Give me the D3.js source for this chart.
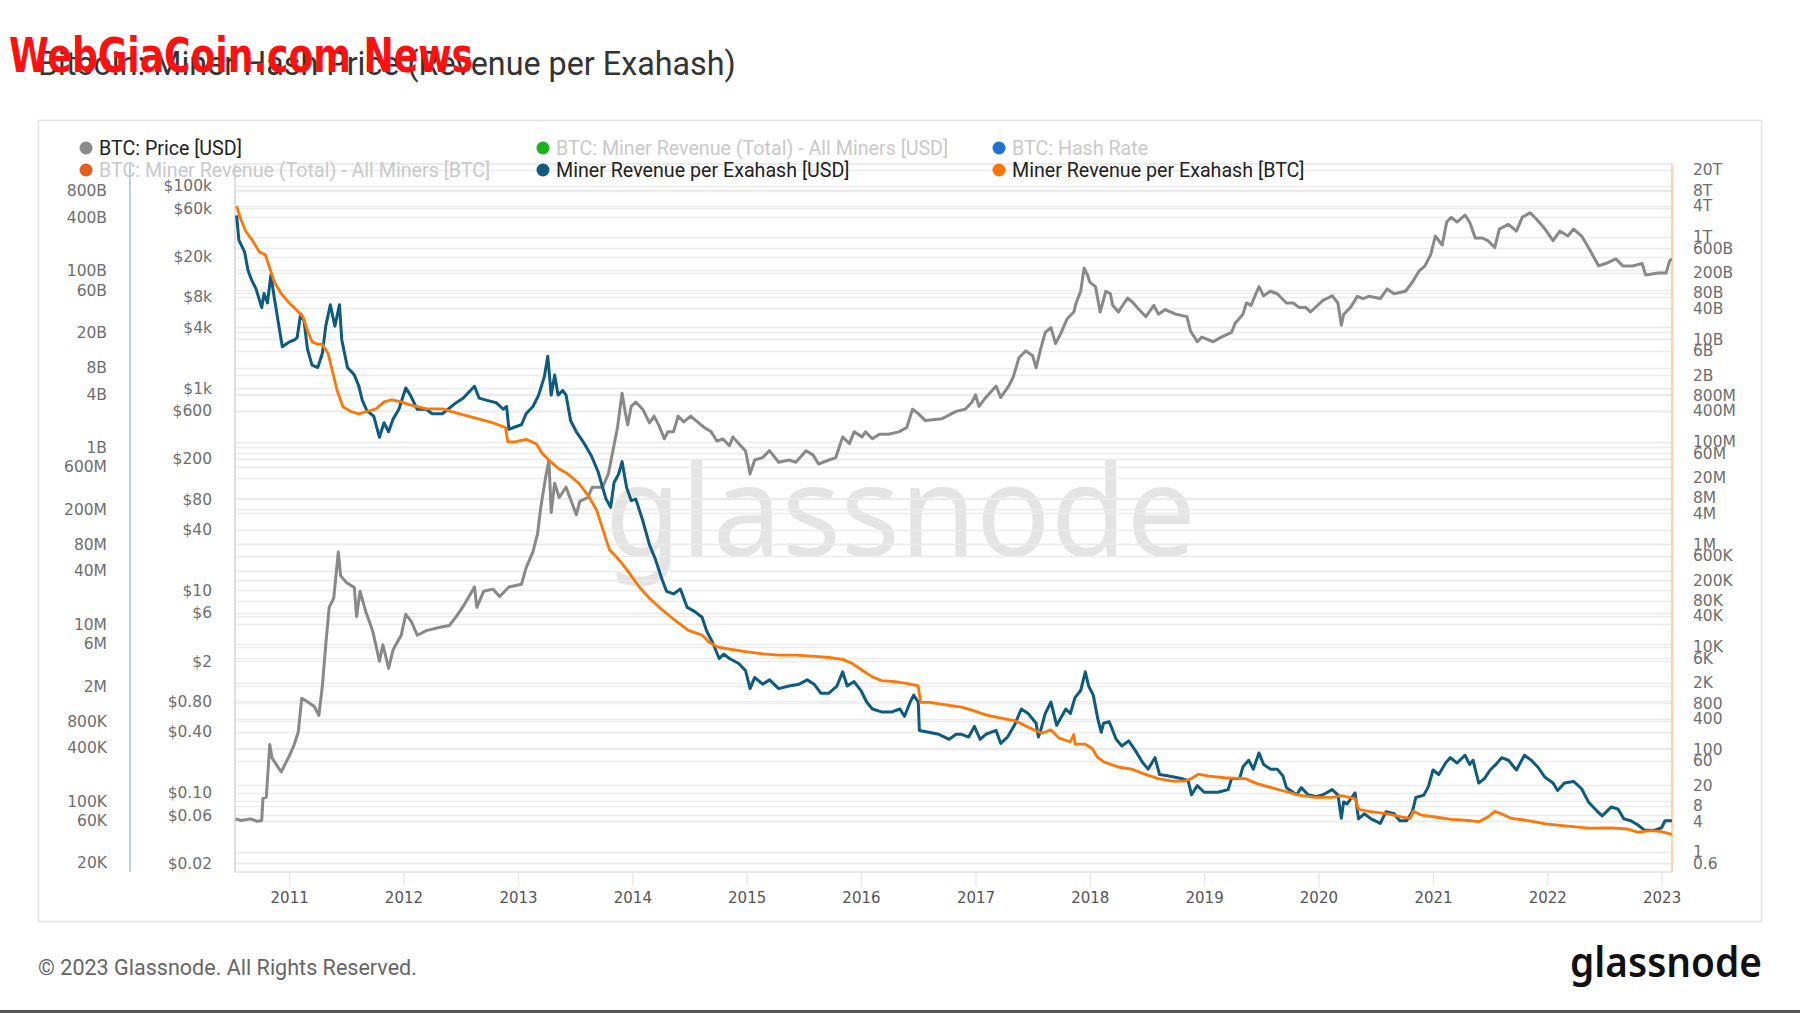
<!DOCTYPE html>
<html><head><meta charset="utf-8">
<script src="https://cdn.jsdelivr.net/npm/d3@7/dist/d3.min.js"></script>
<style>body{margin:0;background:#fff;}svg{display:block;}</style>
</head><body>
<svg id="chart" width="1800" height="1013"></svg>
<script>
// ---------------- DATA ----------------
const priceYears = [2010.53,2010.58,2010.66,2010.72,2010.76,2010.77,2010.80,2010.83,2010.85,2010.93,2011.0,2011.04,2011.08,2011.11,2011.16,2011.22,2011.26,2011.29,2011.32,2011.35,2011.39,2011.43,2011.45,2011.50,2011.57,2011.59,2011.62,2011.67,2011.73,2011.79,2011.82,2011.87,2011.91,2011.98,2012.02,2012.07,2012.12,2012.20,2012.31,2012.40,2012.46,2012.53,2012.62,2012.64,2012.70,2012.78,2012.84,2012.92,2013.03,2013.07,2013.13,2013.17,2013.20,2013.24,2013.27,2013.29,2013.32,2013.36,2013.42,2013.51,2013.54,2013.61,2013.65,2013.74,2013.79,2013.83,2013.87,2013.91,2013.94,2013.96,2013.99,2014.03,2014.09,2014.15,2014.19,2014.23,2014.28,2014.31,2014.36,2014.40,2014.45,2014.51,2014.58,2014.63,2014.69,2014.74,2014.79,2014.85,2014.88,2014.93,2014.99,2015.03,2015.07,2015.14,2015.20,2015.28,2015.37,2015.43,2015.52,2015.58,2015.63,2015.72,2015.78,2015.84,2015.90,2015.94,2016.01,2016.04,2016.10,2016.16,2016.24,2016.33,2016.40,2016.45,2016.50,2016.56,2016.71,2016.83,2016.91,2016.97,2017.0,2017.03,2017.09,2017.18,2017.22,2017.29,2017.33,2017.38,2017.44,2017.50,2017.53,2017.57,2017.61,2017.66,2017.70,2017.75,2017.80,2017.86,2017.88,2017.92,2017.95,2017.98,2018.0,2018.05,2018.09,2018.14,2018.18,2018.20,2018.25,2018.33,2018.38,2018.43,2018.49,2018.56,2018.60,2018.66,2018.75,2018.85,2018.88,2018.94,2018.98,2019.08,2019.15,2019.24,2019.27,2019.34,2019.37,2019.41,2019.48,2019.52,2019.58,2019.64,2019.72,2019.78,2019.83,2019.89,2019.93,2020.04,2020.12,2020.17,2020.20,2020.22,2020.28,2020.34,2020.39,2020.44,2020.54,2020.60,2020.66,2020.76,2020.82,2020.88,2020.93,2020.98,2021.02,2021.08,2021.12,2021.16,2021.21,2021.28,2021.32,2021.37,2021.43,2021.48,2021.54,2021.58,2021.66,2021.73,2021.78,2021.85,2021.91,2021.98,2022.05,2022.11,2022.18,2022.23,2022.30,2022.36,2022.45,2022.51,2022.60,2022.66,2022.75,2022.83,2022.86,2022.97,2023.04,2023.07,2023.09];
const priceValues = [0.055,0.053,0.055,0.052,0.053,0.087,0.09,0.30,0.22,0.16,0.23,0.29,0.40,0.86,0.79,0.71,0.58,1.12,2.9,6.8,8.4,24,14,12,10.7,5.5,9.8,6.2,4.0,2.0,2.9,1.7,2.6,3.6,5.8,4.9,3.6,4.0,4.3,4.5,5.5,7.2,10.8,6.8,9.8,10.3,8.7,10.8,11.5,16.7,24,36,68,129,195,59,115,83,105,56,76,83,105,105,142,241,409,890,560,434,660,730,620,454,530,434,316,370,370,530,465,530,454,409,370,300,316,270,330,283,241,142,195,206,241,185,195,185,241,219,178,195,206,330,283,370,330,370,316,350,350,370,409,620,560,480,500,590,620,730,860,660,810,1050,810,1050,1290,2000,2340,2090,1590,2450,3560,3980,2760,3560,4830,5670,6970,9100,15400,13100,11200,10100,5670,9100,8600,6600,5670,7800,6970,6000,5100,6600,5400,6000,5400,5100,3700,2880,3200,2880,3200,3560,4370,5400,6970,6600,10100,8200,9100,8600,6970,6970,6300,6300,5670,7400,8200,6970,4200,5350,6300,8100,7700,8100,7700,9600,8600,9100,11200,14500,16200,21000,32000,26000,44000,49000,44000,51500,44000,30600,30600,28800,24600,37500,41700,35800,49000,54300,46300,37500,28800,35800,32000,37500,32000,24600,16200,17100,19000,16200,16200,17100,13200,13800,13800,18200,19000];

const usdYears = [2010.54,2010.56,2010.61,2010.64,2010.67,2010.71,2010.76,2010.78,2010.81,2010.84,2010.87,2010.91,2010.94,2011.0,2011.05,2011.07,2011.10,2011.13,2011.16,2011.20,2011.25,2011.29,2011.32,2011.36,2011.40,2011.44,2011.46,2011.51,2011.57,2011.61,2011.64,2011.68,2011.74,2011.79,2011.83,2011.87,2011.91,2011.96,2012.02,2012.06,2012.12,2012.20,2012.25,2012.34,2012.46,2012.52,2012.62,2012.66,2012.73,2012.81,2012.87,2012.90,2012.92,2012.97,2013.03,2013.07,2013.13,2013.18,2013.23,2013.26,2013.29,2013.32,2013.35,2013.39,2013.42,2013.46,2013.51,2013.58,2013.64,2013.70,2013.74,2013.77,2013.81,2013.84,2013.88,2013.91,2013.95,2013.99,2014.03,2014.09,2014.15,2014.20,2014.26,2014.30,2014.36,2014.42,2014.48,2014.55,2014.61,2014.65,2014.70,2014.76,2014.80,2014.85,2014.93,2014.99,2015.03,2015.07,2015.14,2015.20,2015.28,2015.37,2015.46,2015.53,2015.59,2015.65,2015.72,2015.79,2015.84,2015.88,2015.94,2016.0,2016.05,2016.10,2016.18,2016.27,2016.34,2016.38,2016.43,2016.46,2016.50,2016.51,2016.59,2016.68,2016.77,2016.83,2016.88,2016.94,2016.99,2017.04,2017.09,2017.18,2017.22,2017.28,2017.34,2017.40,2017.46,2017.53,2017.55,2017.57,2017.61,2017.66,2017.71,2017.79,2017.83,2017.87,2017.92,2017.96,2017.99,2018.03,2018.07,2018.10,2018.12,2018.17,2018.23,2018.28,2018.34,2018.40,2018.46,2018.51,2018.57,2018.61,2018.69,2018.80,2018.86,2018.89,2018.94,2019.0,2019.12,2019.21,2019.24,2019.31,2019.34,2019.39,2019.43,2019.48,2019.52,2019.58,2019.64,2019.69,2019.72,2019.81,2019.85,2019.91,2019.98,2020.04,2020.12,2020.17,2020.20,2020.22,2020.25,2020.32,2020.35,2020.40,2020.46,2020.54,2020.59,2020.66,2020.71,2020.77,2020.82,2020.85,2020.92,2020.96,2021.0,2021.05,2021.11,2021.15,2021.21,2021.28,2021.32,2021.35,2021.40,2021.45,2021.50,2021.55,2021.60,2021.66,2021.73,2021.80,2021.86,2021.92,2021.98,2022.05,2022.09,2022.15,2022.23,2022.30,2022.36,2022.44,2022.48,2022.56,2022.62,2022.67,2022.73,2022.79,2022.85,2022.94,2023.0,2023.03,2023.09];
const usdValues = [4.2e11,2.2e11,1.62e11,1.0e11,7.9e10,6.2e10,3.8e10,5.5e10,4.3e10,8.9e10,4.9e10,2.35e10,1.37e10,1.55e10,1.65e10,1.75e10,3.2e10,2.7e10,1.29e10,8.5e9,8.0e9,1.15e10,2.35e10,4.1e10,2.35e10,4.1e10,1.65e10,8.0e9,6.6e9,4.9e9,3.4e9,2.6e9,2.25e9,1.3e9,1.9e9,1.5e9,2.1e9,2.7e9,4.7e9,3.9e9,2.7e9,2.7e9,2.4e9,2.4e9,3.2e9,3.6e9,4.9e9,3.6e9,3.4e9,3.2e9,2.7e9,2.9e9,1.6e9,1.7e9,1.8e9,2.4e9,2.9e9,3.9e9,6.3e9,1.07e10,3.9e9,6.6e9,3.9e9,4.4e9,3.9e9,2.0e9,1.5e9,1.1e9,8.1e8,5.3e8,3.5e8,2.6e8,2.1e8,4.0e8,5.0e8,6.9e8,3.5e8,2.5e8,2.6e8,1.5e8,7.9e7,5.5e7,3.2e7,2.35e7,2.2e7,2.5e7,1.55e7,1.38e7,1.2e7,8.4e6,6.3e6,4.1e6,4.6e6,4.1e6,3.6e6,3.0e6,1.87e6,2.5e6,2.1e6,2.35e6,1.87e6,2.0e6,2.1e6,2.35e6,2.1e6,1.66e6,1.66e6,2.0e6,2.9e6,2.0e6,2.25e6,1.78e6,1.32e6,1.1e6,1.02e6,1.02e6,1.1e6,9.1e5,1.32e6,1.58e6,1.32e6,6.3e5,6.0e5,5.7e5,5.0e5,5.7e5,5.7e5,5.3e5,7.0e5,5.0e5,5.7e5,6.3e5,4.5e5,5.3e5,7.2e5,1.1e6,9.8e5,7.6e5,5.3e5,6.3e5,9.8e5,1.32e6,7.2e5,1.1e6,9.8e5,1.48e6,1.78e6,2.9e6,2.0e6,1.58e6,8.5e5,6.0e5,7.6e5,7.9e5,5.0e5,4.2e5,4.8e5,3.7e5,2.75e5,2.3e5,3.1e5,2.0e5,1.92e5,1.8e5,1.7e5,1.18e5,1.5e5,1.26e5,1.26e5,1.35e5,1.8e5,1.8e5,2.45e5,2.9e5,2.3e5,3.5e5,2.6e5,2.3e5,2.3e5,1.92e5,1.42e5,1.18e5,1.42e5,1.18e5,1.12e5,1.18e5,1.35e5,1.18e5,6.4e4,9.8e4,9.3e4,1.24e5,6.3e4,7.2e4,6.3e4,5.6e4,7.6e4,7.2e4,6.0e4,6.0e4,7.6e4,1.1e5,1.17e5,1.47e5,2.25e5,2.0e5,2.7e5,3.1e5,2.7e5,3.3e5,2.6e5,2.9e5,1.6e5,1.8e5,2.25e5,2.6e5,3.1e5,2.9e5,2.25e5,3.3e5,2.9e5,2.4e5,1.86e5,1.6e5,1.32e5,1.6e5,1.67e5,1.38e5,9.8e4,7.6e4,6.8e4,8.6e4,8.1e4,6.3e4,6.0e4,5.4e4,4.7e4,4.7e4,5.0e4,6.0e4,6.0e4];

const btcYears = [2010.54,2010.57,2010.62,2010.68,2010.74,2010.79,2010.83,2010.87,2010.93,2011.0,2011.06,2011.12,2011.16,2011.20,2011.25,2011.29,2011.34,2011.38,2011.42,2011.47,2011.54,2011.61,2011.68,2011.76,2011.83,2011.90,2011.98,2012.05,2012.20,2012.34,2012.49,2012.63,2012.78,2012.89,2012.91,2012.97,2013.07,2013.16,2013.21,2013.29,2013.36,2013.43,2013.53,2013.62,2013.69,2013.74,2013.80,2013.86,2013.91,2013.97,2014.06,2014.15,2014.26,2014.38,2014.49,2014.61,2014.67,2014.74,2014.85,2014.99,2015.14,2015.28,2015.43,2015.57,2015.72,2015.84,2015.92,2016.01,2016.10,2016.18,2016.30,2016.42,2016.50,2016.52,2016.60,2016.74,2016.88,2017.0,2017.09,2017.20,2017.35,2017.47,2017.58,2017.66,2017.73,2017.83,2017.86,2017.87,2017.96,2018.02,2018.07,2018.13,2018.25,2018.37,2018.48,2018.60,2018.72,2018.83,2018.89,2018.95,2019.04,2019.18,2019.36,2019.45,2019.53,2019.68,2019.83,2019.97,2020.12,2020.20,2020.32,2020.35,2020.44,2020.59,2020.73,2020.80,2020.83,2020.90,2021.02,2021.16,2021.31,2021.40,2021.48,2021.54,2021.59,2021.69,2021.83,2022.0,2022.18,2022.36,2022.56,2022.70,2022.79,2022.91,2023.0,2023.09];
const btcValues = [4.0e12,2.4e12,1.28e12,8.4e11,5.0e11,4.5e11,2.45e11,1.31e11,7.8e10,5.1e10,3.8e10,2.75e10,1.48e10,8.9e9,8.0e9,8.0e9,5.3e9,2.3e9,1.0e9,4.8e8,3.9e8,3.5e8,3.9e8,4.4e8,6.0e8,6.6e8,6.0e8,5.3e8,4.4e8,4.4e8,3.5e8,2.9e8,2.35e8,1.9e8,1.0e8,1.0e8,1.12e8,9.1e7,6.0e7,4.0e7,2.95e7,2.4e7,1.57e7,8.5e6,4.5e6,2.0e6,7.8e5,5.7e5,4.2e5,2.8e5,1.47e5,8.9e4,5.3e4,3.2e4,2.1e4,1.7e4,1.24e4,1.0e4,9.0e3,8.1e3,7.3e3,6.9e3,6.9e3,6.6e3,6.2e3,5.7e3,4.8e3,3.5e3,2.6e3,2.2e3,2.1e3,1.9e3,1.73e3,830,830,740,670,550,470,415,360,265,206,240,166,141,195,127,127,104,69,56,45,41,33,27,24,24,27,33,30,28,27,22,19.5,15.8,12.8,11.6,11.6,12.5,11,6.8,6.2,5.6,4.8,4.5,6.2,5.2,4.8,4.3,4.1,3.9,4.8,6.2,5.6,4.5,4.1,3.5,3.2,2.9,2.95,2.8,2.43,2.6,2.5,2.2];

const yearTicks = [2011,2012,2013,2014,2015,2016,2017,2018,2019,2020,2021,2022,2023];
const priceTicks = [100000,60000,20000,8000,4000,1000,600,200,80,40,10,6,2,0.8,0.4,0.1,0.06,0.02];
const priceTickLabels = ["$100k","$60k","$20k","$8k","$4k","$1k","$600","$200","$80","$40","$10","$6","$2","$0.80","$0.40","$0.10","$0.06","$0.02"];
const usdTicks = [8e11,4e11,1e11,6e10,2e10,8e9,4e9,1e9,6e8,2e8,8e7,4e7,1e7,6e6,2e6,8e5,4e5,1e5,6e4,2e4];
const usdTickLabels = ["800B","400B","100B","60B","20B","8B","4B","1B","600M","200M","80M","40M","10M","6M","2M","800K","400K","100K","60K","20K"];
const btcTicks = [2e13,8e12,4e12,1e12,6e11,2e11,8e10,4e10,1e10,6e9,2e9,8e8,4e8,1e8,6e7,2e7,8e6,4e6,1e6,6e5,2e5,8e4,4e4,1e4,6e3,2e3,800,400,100,60,20,8,4,1,0.6];
const btcTickLabels = ["20T","8T","4T","1T","600B","200B","80B","40B","10B","6B","2B","800M","400M","100M","60M","20M","8M","4M","1M","600K","200K","80K","40K","10K","6K","2K","800","400","100","60","20","8","4","1","0.6"];

const legendNames = ["BTC: Price [USD]","BTC: Miner Revenue (Total) - All Miners [USD]","BTC: Hash Rate","BTC: Miner Revenue (Total) - All Miners [BTC]","Miner Revenue per Exahash [USD]","Miner Revenue per Exahash [BTC]"];
const legendActive = [true,false,false,false,true,true];
const legendColors = ["#8a8a8a","#1db21d","#1f74cf","#e5601b","#0f5c80","#ff7300"];

// ---------------- LAYOUT ----------------
const svg = d3.select("#chart");
const L = 235, R = 1672, T = 164, B = 872;
function yearToDate(y){const yr=Math.floor(y);const s=Date.UTC(yr,0,1),e=Date.UTC(yr+1,0,1);return new Date(s+(y-yr)*(e-s));}

const x = d3.scaleUtc().domain([yearToDate(2010.526), yearToDate(2023.091)]).range([L, R]);
const yPrice = d3.scaleLog().domain([0.0164, 165000]).range([B, T]);
const yUsd = d3.scaleLog().domain([15800, 1.6e12]).range([B, T]);
const yBtc = d3.scaleLog().domain([0.406, 2.62e13]).range([B, T]);

svg.append("rect").attr("width",1800).attr("height",1013).attr("fill","#fff");
// bottom edge line
svg.append("rect").attr("x",0).attr("y",1010).attr("width",1800).attr("height",3).attr("fill","#555");

// card
svg.append("rect").attr("x",38.5).attr("y",120.5).attr("width",1723).attr("height",801)
  .attr("fill","#fff").attr("stroke","#e3e3e3").attr("stroke-width",1.5);

// title
const title = svg.append("text").attr("x",38).attr("y",75).attr("font-family","Roboto, 'Open Sans', sans-serif")
  .attr("font-size",28).attr("fill","#333").text("Bitcoin: Miner Hash Price (Revenue per Exahash)");
(function(){const w=title.node().getComputedTextLength();title.attr("font-size",28*698/w);})();

// watermark glassnode center
svg.append("text").attr("x",605).attr("y",556).attr("font-family","'Noto Sans', 'Open Sans', sans-serif")
  .attr("font-size",126).attr("fill","#e4e4e4").attr("textLength",591).attr("lengthAdjust","spacingAndGlyphs").text("glassnode");

// gridlines
const grid = svg.append("g");
function gridLines(ticks, scale){
  grid.selectAll(null).data(ticks).enter().append("line")
    .attr("x1",L).attr("x2",R).attr("y1",d=>Math.round(scale(d))+0.5).attr("y2",d=>Math.round(scale(d))+0.5)
    .attr("stroke","#ebebeb").attr("stroke-width",1.3);
}
gridLines(usdTicks,yUsd); gridLines(priceTicks,yPrice); gridLines(btcTicks,yBtc);

// frame
svg.append("line").attr("x1",L).attr("x2",R).attr("y1",T).attr("y2",T).attr("stroke","#e6e6e6").attr("stroke-width",1.5);
svg.append("line").attr("x1",L).attr("x2",R).attr("y1",B).attr("y2",B).attr("stroke","#e0e0e0").attr("stroke-width",1.5);
svg.append("line").attr("x1",L).attr("x2",L).attr("y1",T).attr("y2",B).attr("stroke","#d6d6d6").attr("stroke-width",1.5);
svg.append("line").attr("x1",R).attr("x2",R).attr("y1",T).attr("y2",B).attr("stroke","#ffc48f").attr("stroke-width",1.5);
svg.append("line").attr("x1",130).attr("x2",130).attr("y1",T).attr("y2",B).attr("stroke","#9ec3da").attr("stroke-width",1.5);

// x axis
const xAxis = d3.axisBottom(x).tickValues(yearTicks.map(yearToDate)).tickFormat(d3.utcFormat("%Y")).tickSize(14).tickPadding(6);
const gx = svg.append("g").attr("transform",`translate(0,${B})`).call(xAxis);
gx.select(".domain").remove();
gx.selectAll(".tick line").attr("stroke","#e6e6e6").attr("stroke-width",1.2);
gx.selectAll(".tick text").attr("font-family","'DejaVu Sans', sans-serif").attr("font-size",15).attr("fill","#555");

// y axes
function styleAxis(g){g.select(".domain").remove();g.selectAll(".tick line").remove();
  g.selectAll(".tick text").attr("font-family","'DejaVu Sans', sans-serif").attr("font-size",15.5).attr("fill","#6e6e6e");}
const gP = svg.append("g").attr("transform",`translate(${L},0)`)
  .call(d3.axisLeft(yPrice).tickValues(priceTicks).tickFormat((d,i)=>priceTickLabels[i]).tickSize(0).tickPadding(23));
styleAxis(gP);
const gU = svg.append("g").attr("transform",`translate(130,0)`)
  .call(d3.axisLeft(yUsd).tickValues(usdTicks).tickFormat((d,i)=>usdTickLabels[i]).tickSize(0).tickPadding(23));
styleAxis(gU);
const gB = svg.append("g").attr("transform",`translate(${R},0)`)
  .call(d3.axisRight(yBtc).tickValues(btcTicks).tickFormat((d,i)=>btcTickLabels[i]).tickSize(0).tickPadding(21));
styleAxis(gB);

// lines
svg.append("clipPath").attr("id","clip").append("rect").attr("x",L).attr("y",T-2).attr("width",R-L).attr("height",B-T+4);
const plot = svg.append("g").attr("clip-path","url(#clip)");
function series(years, values){return years.map((y,i)=>({d:yearToDate(y),v:values[i]}));}
const lineP = d3.line().x(p=>x(p.d)).y(p=>yPrice(p.v));
const lineU = d3.line().x(p=>x(p.d)).y(p=>yUsd(p.v));
const lineB = d3.line().x(p=>x(p.d)).y(p=>yBtc(p.v));
plot.append("path").datum(series(priceYears,priceValues)).attr("d",lineP).attr("fill","none").attr("stroke","#898989").attr("stroke-width",3).attr("stroke-linejoin","round");
plot.append("path").datum(series(usdYears,usdValues)).attr("d",lineU).attr("fill","none").attr("stroke","#0d5b7e").attr("stroke-width",3).attr("stroke-linejoin","round");
plot.append("path").datum(series(btcYears,btcValues)).attr("d",lineB).attr("fill","none").attr("stroke","#ff7605").attr("stroke-width",2.8).attr("stroke-linejoin","round");

// legend
const legX = [86,543,999], legY = [148,170];
const leg = svg.append("g");
legendNames.forEach((name,i)=>{
  const cx = legX[i%3], cy = legY[Math.floor(i/3)];
  leg.append("circle").attr("cx",cx).attr("cy",cy).attr("r",6.5).attr("fill",legendColors[i]);
  leg.append("text").attr("class","legtext").attr("x",cx+13).attr("y",cy).attr("dy","0.36em")
    .attr("font-family","Roboto, sans-serif").attr("font-size",17)
    .attr("fill",legendActive[i]?"#222":"#c9c9c9").text(name);
});
(function(){const t=leg.select(".legtext").node();const w=t.getComputedTextLength();const fs=17*143/w;leg.selectAll(".legtext").attr("font-size",fs);})();

// footer
const foot = svg.append("text").attr("x",38).attr("y",975).attr("font-family","Roboto, sans-serif").attr("font-size",19)
  .attr("fill","#666").text("© 2023 Glassnode. All Rights Reserved.");
(function(){const w=foot.node().getComputedTextLength();foot.attr("font-size",19*379/w);})();
svg.append("text").attr("x",1570).attr("y",977).attr("font-family","'Noto Sans', sans-serif").attr("font-weight",600)
  .attr("font-size",42).attr("fill","#111").attr("textLength",192).attr("lengthAdjust","spacingAndGlyphs").text("glassnode");

// red overlay text
svg.append("text").attr("x",9).attr("y",72).attr("font-family","'Liberation Sans Narrow','DejaVu Sans Condensed',sans-serif")
  .attr("font-weight","bold").attr("font-size",48).attr("fill","#ff1010")
  .attr("textLength",464).attr("lengthAdjust","spacingAndGlyphs").text("WebGiaCoin.com News");
</script>
</body></html>
